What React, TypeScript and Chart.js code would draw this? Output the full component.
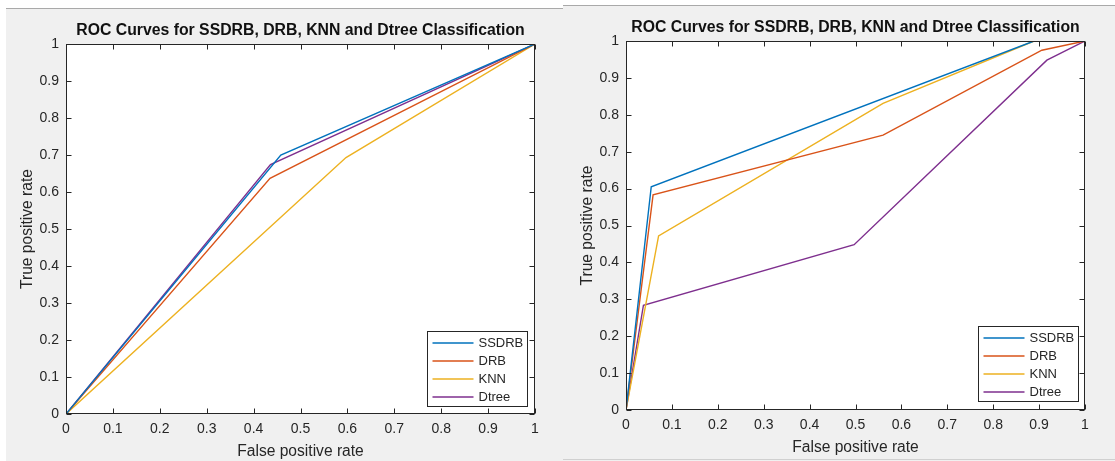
import React, { useEffect, useRef } from 'react';
import { Chart, registerables } from 'chart.js';

Chart.register(...registerables);

// ---------------- data ----------------
const seriesNames = ['SSDRB', 'DRB', 'KNN', 'Dtree'];
const seriesColors = ['#0072BD', '#D95319', '#EDB120', '#7E2F8E'];

const tickValues = [0, 0.1, 0.2, 0.3, 0.4, 0.5, 0.6, 0.7, 0.8, 0.9, 1];
const tickLabels = ['0', '0.1', '0.2', '0.3', '0.4', '0.5', '0.6', '0.7', '0.8', '0.9', '1'];

const chartTitle = 'ROC Curves for SSDRB, DRB, KNN and Dtree Classification';
const xAxisTitle = 'False positive rate';
const yAxisTitle = 'True positive rate';

// Left chart
const leftSsdrbFpr = [0, 0.458, 1];
const leftSsdrbTpr = [0, 0.700, 1];
const leftDrbFpr = [0, 0.435, 1];
const leftDrbTpr = [0, 0.637, 1];
const leftKnnFpr = [0, 0.597, 1];
const leftKnnTpr = [0, 0.693, 1];
const leftDtreeFpr = [0, 0.436, 1];
const leftDtreeTpr = [0, 0.674, 1];

// Right chart
const rightSsdrbFpr = [0, 0.055, 0.889, 1];
const rightSsdrbTpr = [0, 0.605, 1, 1];
const rightDrbFpr = [0, 0.059, 0.560, 0.906, 1];
const rightDrbTpr = [0, 0.583, 0.745, 0.975, 1];
const rightKnnFpr = [0, 0.071, 0.560, 0.889, 1];
const rightKnnTpr = [0, 0.472, 0.831, 1, 1];
const rightDtreeFpr = [0, 0.038, 0.497, 0.917, 1];
const rightDtreeTpr = [0, 0.284, 0.448, 0.948, 1];

const leftFpr = [leftSsdrbFpr, leftDrbFpr, leftKnnFpr, leftDtreeFpr];
const leftTpr = [leftSsdrbTpr, leftDrbTpr, leftKnnTpr, leftDtreeTpr];
const rightFpr = [rightSsdrbFpr, rightDrbFpr, rightKnnFpr, rightDtreeFpr];
const rightTpr = [rightSsdrbTpr, rightDrbTpr, rightKnnTpr, rightDtreeTpr];

// ---------------- style ----------------
const FONT = '"Liberation Sans", Arial, Helvetica, sans-serif';
const TEXT = '#262626';
const PANEL_BG = '#f0f0f0';
const PANEL_LINE = '#a9a9a9';

type Layout = {
  width: number;
  height: number;
  padTop: number;
  padRight: number;
  yAxisWidth: number;
  xAxisHeight: number;
  yTitlePad: number;
  xTitlePad: number;
  titleY: number;
  legendInsetRight: number;
  legendInsetBottom: number;
};

function makeAxesPlugin(layout: Layout) {
  return {
    id: 'matlabAxes',
    beforeDatasetsDraw(chart: any) {
      const { ctx, chartArea } = chart;
      ctx.save();
      ctx.fillStyle = '#ffffff';
      ctx.fillRect(chartArea.left, chartArea.top, chartArea.right - chartArea.left, chartArea.bottom - chartArea.top);
      ctx.restore();
    },
    afterDatasetsDraw(chart: any) {
      const { ctx, chartArea } = chart;
      const xs = chart.scales.x;
      const ys = chart.scales.y;
      const L = Math.round(chartArea.left) + 0.5;
      const R = Math.round(chartArea.right) - 0.5;
      const T = Math.round(chartArea.top) + 0.5;
      const B = Math.round(chartArea.bottom) - 0.5;
      const tl = 5;
      ctx.save();
      ctx.strokeStyle = TEXT;
      ctx.lineWidth = 1;
      ctx.beginPath();
      tickValues.forEach((v) => {
        const px = Math.round(xs.getPixelForValue(v)) + 0.5;
        ctx.moveTo(px, B);
        ctx.lineTo(px, B - tl);
        ctx.moveTo(px, T);
        ctx.lineTo(px, T + tl);
        const py = Math.round(ys.getPixelForValue(v)) + 0.5;
        ctx.moveTo(L, py);
        ctx.lineTo(L + tl, py);
        ctx.moveTo(R, py);
        ctx.lineTo(R - tl, py);
      });
      ctx.stroke();
      ctx.strokeRect(L, T, R - L, B - T);

      // legend box
      const boxW = 100;
      const boxH = 75;
      const bx = Math.round(chartArea.right - layout.legendInsetRight - boxW) + 0.5;
      const by = Math.round(chartArea.bottom - layout.legendInsetBottom - boxH) + 0.5;
      ctx.fillStyle = '#ffffff';
      ctx.fillRect(bx, by, boxW, boxH);
      ctx.strokeStyle = TEXT;
      ctx.strokeRect(bx, by, boxW, boxH);
      ctx.font = `13px ${FONT}`;
      ctx.textBaseline = 'middle';
      ctx.textAlign = 'left';
      chart.data.datasets.forEach((ds: any, i: number) => {
        const rowY = by + 11.5 + i * 18;
        ctx.strokeStyle = ds.borderColor;
        ctx.lineWidth = 1.6;
        ctx.beginPath();
        ctx.moveTo(bx + 5, rowY);
        ctx.lineTo(bx + 46, rowY);
        ctx.stroke();
        ctx.fillStyle = TEXT;
        ctx.fillText(ds.label, bx + 51, rowY + 0.5);
      });

      // title, centred over the axes
      ctx.fillStyle = '#111111';
      ctx.font = `bold 15.8px ${FONT}`;
      ctx.textAlign = 'center';
      ctx.textBaseline = 'middle';
      ctx.fillText(chartTitle, (chartArea.left + chartArea.right) / 2, layout.titleY);
      ctx.restore();
    },
  };
}

function RocChart({ fprs, tprs, layout }: { fprs: number[][]; tprs: number[][]; layout: Layout }) {
  const ref = useRef<HTMLCanvasElement>(null);
  useEffect(() => {
    const tickFont = { family: FONT, size: 14 };
    const chart = new Chart(ref.current as HTMLCanvasElement, {
      type: 'scatter',
      data: {
        datasets: seriesNames.map((name, i) => ({
          label: name,
          data: fprs[i].map((x, j) => ({ x, y: tprs[i][j] })),
          borderColor: seriesColors[i],
          backgroundColor: seriesColors[i],
          showLine: true,
          pointRadius: 0,
          borderWidth: 1.4,
          tension: 0,
        })),
      },
      options: {
        responsive: false,
        animation: false,
        events: [],
        layout: { padding: { top: layout.padTop, right: layout.padRight, left: 0, bottom: 0 } },
        plugins: {
          legend: { display: false },
          tooltip: { enabled: false },
          title: { display: false },
        },
        scales: {
          x: {
            type: 'linear',
            min: 0,
            max: 1,
            grid: { display: false, drawTicks: false },
            border: { display: false },
            afterBuildTicks: (s: any) => {
              s.ticks = tickValues.map((v) => ({ value: v }));
            },
            afterFit: (s: any) => {
              s.height = layout.xAxisHeight;
            },
            ticks: {
              autoSkip: false,
              maxRotation: 0,
              padding: 7,
              color: TEXT,
              font: tickFont,
              callback: (_v: any, i: number) => tickLabels[i],
            },
            title: {
              display: true,
              text: xAxisTitle,
              color: TEXT,
              font: { family: FONT, size: 15.6 },
              padding: { top: 0, bottom: layout.xTitlePad },
            },
          },
          y: {
            type: 'linear',
            min: 0,
            max: 1,
            grid: { display: false, drawTicks: false },
            border: { display: false },
            afterBuildTicks: (s: any) => {
              s.ticks = tickValues.map((v) => ({ value: v }));
            },
            afterFit: (s: any) => {
              s.width = layout.yAxisWidth;
            },
            ticks: {
              autoSkip: false,
              padding: 7,
              color: TEXT,
              font: tickFont,
              callback: (_v: any, i: number) => tickLabels[i],
            },
            title: {
              display: true,
              text: yAxisTitle,
              color: TEXT,
              font: { family: FONT, size: 15.6 },
              padding: { top: layout.yTitlePad, bottom: 0 },
            },
          },
        },
      } as any,
      plugins: [makeAxesPlugin(layout)],
    });
    return () => chart.destroy();
  }, []);
  return (
    <canvas
      ref={ref}
      width={layout.width}
      height={layout.height}
      style={{ display: 'block', width: layout.width, height: layout.height }}
    />
  );
}

const leftLayout: Layout = {
  width: 557,
  height: 453,
  padTop: 36,
  padRight: 28,
  yAxisWidth: 60,
  xAxisHeight: 47,
  yTitlePad: 12,
  xTitlePad: 0,
  titleY: 23,
  legendInsetRight: 8,
  legendInsetBottom: 8,
};

const rightLayout: Layout = {
  width: 552,
  height: 456,
  padTop: 36,
  padRight: 30,
  yAxisWidth: 63,
  xAxisHeight: 51,
  yTitlePad: 15,
  xTitlePad: 4,
  titleY: 23,
  legendInsetRight: 7,
  legendInsetBottom: 9,
};

export default function App() {
  return (
    <div style={{ position: 'fixed', left: 0, top: 0, width: 1115, height: 461, background: '#ffffff', overflow: 'hidden' }}>
      <div style={{ position: 'absolute', left: 6, top: 8, width: 557, height: 453, background: PANEL_BG }}>
        <RocChart fprs={leftFpr} tprs={leftTpr} layout={leftLayout} />
        <div style={{ position: 'absolute', left: 0, top: 0, width: 557, height: 1, background: PANEL_LINE }} />
      </div>
      <div style={{ position: 'absolute', left: 563, top: 5, width: 552, height: 456, background: PANEL_BG }}>
        <RocChart fprs={rightFpr} tprs={rightTpr} layout={rightLayout} />
        <div style={{ position: 'absolute', left: 0, top: 0, width: 552, height: 1, background: PANEL_LINE }} />
        <div style={{ position: 'absolute', left: 0, top: 454, width: 552, height: 1, background: '#d0d0d0' }} />
      </div>
    </div>
  );
}
